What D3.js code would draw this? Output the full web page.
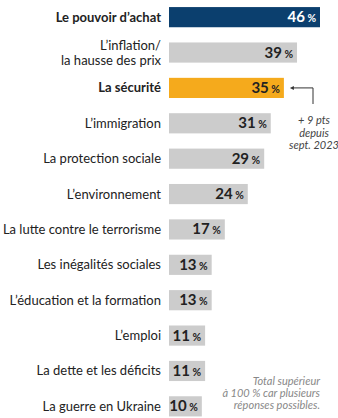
<!DOCTYPE html>
<html>
<head>
<meta charset="utf-8">
<script src="https://cdn.jsdelivr.net/npm/d3@7"></script>
<style>
  body { margin: 0; background: #fff; }
  svg { font-family: "Source Sans Pro", Lato, "Open Sans", sans-serif; }
</style>
</head>
<body>
<svg width="338" height="418"></svg>
<script>
var categories = [
  ["Le pouvoir d\u2019achat"],
  ["L\u2019inflation/", "la hausse des prix"],
  ["La s\u00e9curit\u00e9"],
  ["L\u2019immigration"],
  ["La protection sociale"],
  ["L\u2019environnement"],
  ["La lutte contre le terrorisme"],
  ["Les in\u00e9galit\u00e9s sociales"],
  ["L\u2019\u00e9ducation et la formation"],
  ["L\u2019emploi"],
  ["La dette et les d\u00e9ficits"],
  ["La guerre en Ukraine"]
];
var values = [46, 39, 35, 31, 29, 24, 17, 13, 13, 11, 11, 10];
var highlight = ["blue", "grey", "orange", "grey", "grey", "grey", "grey", "grey", "grey", "grey", "grey", "grey"];
var annotation = ["+ 9 pts", "depuis", "sept. 2023"];
var footnote = ["Total sup\u00e9rieur", "\u00e0 100 % car plusieurs", "r\u00e9ponses possibles."];

var colors = { blue: "#0b3f6e", orange: "#f5aa1c", grey: "#cccccc" };

var svg = d3.select("svg");

var x = d3.scaleLinear().domain([0, 46]).range([169, 320]);
var y = d3.scaleBand()
  .domain(d3.range(values.length))
  .range([0, 423.5])
  .paddingInner(0.43)
  .paddingOuter(0.2);

var rows = svg.selectAll(".row")
  .data(values)
  .enter().append("g")
  .attr("class", "row");

rows.append("rect")
  .attr("x", x(0))
  .attr("y", function(d, i) { return y(i); })
  .attr("width", function(d) { return x(d) - x(0); })
  .attr("height", y.bandwidth())
  .attr("fill", function(d, i) { return colors[highlight[i]]; });

// category labels
rows.append("text")
  .attr("x", 161)
  .attr("text-anchor", "end")
  .attr("font-size", "13px")
  .attr("fill", "#222")
  .attr("font-weight", function(d, i) { return highlight[i] == "grey" ? "normal" : "bold"; })
  .each(function(d, i) {
    var lines = categories[i];
    var cy = y(i) + y.bandwidth() / 2;
    var t = d3.select(this);
    lines.forEach(function(l, j) {
      t.append("tspan")
        .attr("x", 161)
        .attr("y", cy + 4.5 + (j - (lines.length - 1) / 2) * 15)
        .text(l);
    });
  });

// value labels
var vals = rows.append("text")
  .attr("x", function(d) { return x(d) - 4; })
  .attr("y", function(d, i) { return y(i) + y.bandwidth() / 2 + 5; })
  .attr("text-anchor", "end")
  .attr("fill", function(d, i) { return highlight[i] == "blue" ? "#fff" : "#222"; });
vals.append("tspan")
  .attr("font-size", "15px")
  .attr("font-weight", "bold")
  .text(function(d) { return d; });
vals.append("tspan")
  .attr("font-size", "10.5px")
  .attr("font-weight", "bold")
  .attr("dx", 2.5)
  .text("%");

// annotation arrow for La sécurité
var ay = y(2) + y.bandwidth() / 2;
svg.append("path")
  .attr("d", "M" + (x(35) + 8) + "," + ay + " H313 V104")
  .attr("fill", "none")
  .attr("stroke", "#333")
  .attr("stroke-width", 1);
svg.append("path")
  .attr("d", "M" + (x(35) + 6) + "," + ay + " l4,-2 v4 z")
  .attr("fill", "#333");

svg.append("text")
  .attr("text-anchor", "middle")
  .attr("font-size", "11px")
  .attr("font-style", "italic")
  .attr("fill", "#444")
  .selectAll("tspan")
  .data(annotation)
  .enter().append("tspan")
  .attr("x", 314)
  .attr("y", function(d, i) { return 124 + i * 12.5; })
  .text(function(d) { return d; });

svg.append("text")
  .attr("text-anchor", "end")
  .attr("font-size", "11px")
  .attr("font-style", "italic")
  .attr("fill", "#888")
  .selectAll("tspan")
  .data(footnote)
  .enter().append("tspan")
  .attr("x", 320)
  .attr("y", function(d, i) { return 385 + i * 12; })
  .text(function(d) { return d; });
</script>
</body>
</html>
